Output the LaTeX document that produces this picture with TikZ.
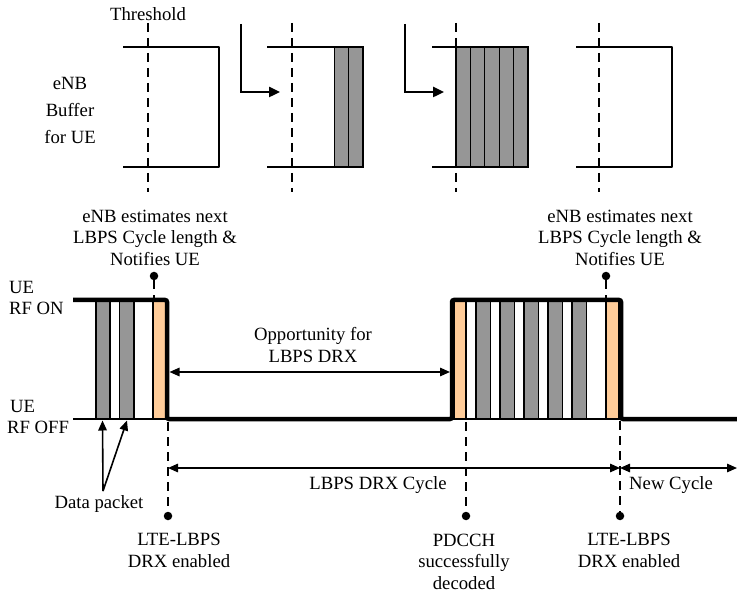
\documentclass[tikz,border=0pt]{standalone}
\usepackage{fontspec}
\setmainfont{Liberation Serif}
\usetikzlibrary{arrows.meta}
\definecolor{pktgray}{RGB}{150,150,150}
\definecolor{ctrlorange}{RGB}{255,204,153}

\begin{document}
\begin{tikzpicture}[x=1pt,y=-1pt,
  lbl/.style={font=\fontsize{18.7}{21.5}\selectfont, inner sep=0pt, align=center},
  bufline/.style={line width=1.5pt},
  thresh/.style={line width=1.9pt, dash pattern=on 9pt off 6pt},
  pkt/.style={draw, line width=1.2pt, fill=pktgray},
  ctrl/.style={draw, line width=1.2pt, fill=ctrlorange},
  idle/.style={draw, line width=1.2pt, fill=white},
  rf/.style={line width=4.5pt, rounded corners=2pt},
  steparrow/.style={line width=2.4pt, -{Triangle[length=11pt,width=10pt]}},
  dim/.style={line width=1.5pt, {Triangle[length=10pt,width=8.5pt]}-{Triangle[length=10pt,width=8.5pt]}},
  ptr/.style={line width=1.6pt, -{Triangle[length=10pt,width=8.5pt]}},
  dot/.style={circle, fill=black, inner sep=0pt, minimum size=8.5pt},
]
\useasboundingbox[fill=white] (0,0) rectangle (737,596);

% ---------- eNB buffer snapshots ----------
\foreach \tx in {148, 292, 456, 599} {
  \draw[thresh] (\tx,23) -- (\tx,192);
}
% queued packets
\foreach \px in {334.2, 348.6} {
  \draw[pkt] (\px,47) rectangle ++(14.4,120);
}
\foreach \px in {456, 470.4, 484.8, 499.2, 513.6} {
  \draw[pkt] (\px,47) rectangle ++(14.4,120);
}
\foreach \bx in {123, 267, 432, 576} {
  \draw[bufline, line join=round] (\bx,47) -- ++(96,0) -- ++(0,120) -- ++(-96,0);
}

\node[lbl] (thr) at (148,14) {Threshold};
\node[lbl, font=\fontsize{18.7}{27}\selectfont] (buf) at (70,110) {eNB\\Buffer\\for UE};

% buffer transitions
\coordinate (s1a) at (241,24); \coordinate (s1b) at (241,92); \coordinate (s1c) at (280,92);
\coordinate (s2a) at (405,24); \coordinate (s2b) at (405,92); \coordinate (s2c) at (444,92);
\draw[steparrow] (s1a) -- (s1b) -- (s1c);
\draw[steparrow] (s2a) -- (s2b) -- (s2c);

% ---------- UE radio activity ----------
% first active period
\draw[pkt] (96,300) rectangle (110,419);
\draw[pkt] (119.5,300) rectangle (134,419);
\draw[idle] (134,300) rectangle (153,419);
\draw[ctrl] (153,300) rectangle (166,419);
\draw[line width=1.5pt] (73,419) -- (167,419);

% second active period
\draw[ctrl] (454,300) rectangle (466,419);
\draw[idle] (466,300) rectangle (476,419);
\foreach \px in {476, 500, 524, 548, 572} {
  \draw[pkt] (\px,300) rectangle ++(14.4,119);
}
\draw[idle] (586.4,300) rectangle (606,419);
\draw[ctrl] (606,300) rectangle (619,419);
\draw[line width=1.5pt] (452,419) -- (621,419);

% RF state
\draw[rf] (73,300) -- (167,300) -- (167,419) -- (452,419) -- (452,300) -- (621,300) -- (621,419) -- (737,419);

\node[lbl, align=left, anchor=west] (rfon) at (9,298) {UE\\RF ON};
\node[lbl, align=left, anchor=west] (rfoff) at (7,417) {\hspace*{3pt}UE\\RF OFF};

% cycle length notification
\node[dot] (n1) at (154,276) {};
\node[dot] (n2) at (606,276) {};
\coordinate (n1b) at (154,299);
\coordinate (n2b) at (606,299);
\draw[thresh] (n1) -- (n1b);
\draw[thresh] (n2) -- (n2b);
\node[lbl] (est1) at (155,237.5) {eNB estimates next\\LBPS Cycle length \&\\Notifies UE};
\node[lbl] (est2) at (620,237.5) {eNB estimates next\\LBPS Cycle length \&\\Notifies UE};

% sleep opportunity
\coordinate (o1) at (169.5,372);
\coordinate (o2) at (450,372);
\draw[dim] (o1) -- (o2);
\node[lbl] (opp) at (313,345) {Opportunity for\\LBPS DRX};

% data packet pointers
\node[lbl] (dp) at (99,504) {Data packet};
\coordinate (dpr) at (103,491);
\coordinate (dp1) at (102.5,420.5);
\coordinate (dp2) at (127,420.5);
\draw[ptr] (dpr) -- (dp1);
\draw[ptr] (dpr) -- (dp2);

% events on the time axis
\node[dot] (e1) at (168,516) {};
\node[dot] (e2) at (466,516) {};
\node[dot] (e3) at (620,516) {};
\coordinate (e1t) at (168,422);
\coordinate (e2t) at (466,422);
\coordinate (e3t) at (620,421);
\draw[thresh] (e1t) -- (e1);
\draw[thresh] (e2t) -- (e2);
\draw[thresh] (e3t) -- (e3);

% cycle dimensions
\coordinate (c1) at (168,468);
\coordinate (c2) at (620,468);
\coordinate (c3) at (737,468);
\draw[dim] (c1) -- (c2);
\draw[dim] (c2) -- (c3);
\node[lbl] (cyc) at (378,485) {LBPS DRX Cycle};
\node[lbl] (newc) at (671,485) {New Cycle};

\node[lbl] (ev1) at (179,550.5) {LTE-LBPS\\DRX enabled};
\node[lbl] (ev2) at (464,561.5) {PDCCH\\successfully\\decoded};
\node[lbl] (ev3) at (629,550.5) {LTE-LBPS\\DRX enabled};
\end{tikzpicture}
\end{document}
